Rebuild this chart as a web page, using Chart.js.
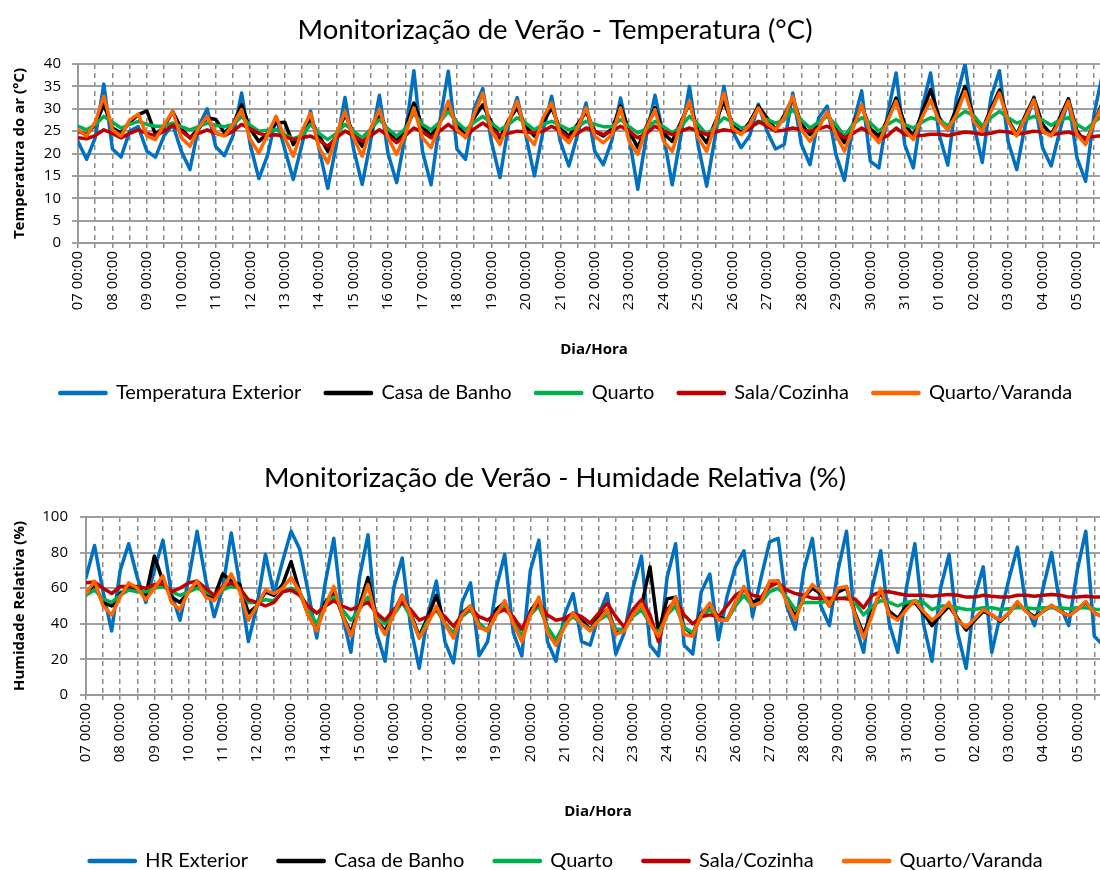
<!DOCTYPE html>
<html>
<head>
<meta charset="utf-8">
<script src="https://cdn.jsdelivr.net/npm/chart.js@4.4.1/dist/chart.umd.min.js"></script>
<style>
html, body { margin: 0; padding: 0; background: #ffffff; overflow: hidden; width: 1100px; height: 870px; }
#temperature_chart { position: absolute; left: 0; top: 0; }
#humidity_chart { position: absolute; left: 0; top: 400px; }
</style>
</head>
<body>
<canvas id="temperature_chart" width="1110" height="430"></canvas>
<canvas id="humidity_chart" width="1110" height="500"></canvas>
<script>
// one label per day, one value every 6 hours (00h, 06h, 12h, 18h)
var dayLabels = ['07','08','09','10','11','12','13','14','15','16','17','18','19','20','21',
    '22','23','24','25','26','27','28','29','30','31','01','02','03','04','05'];
var hourStep = 6;

var tempExterior = [
    22.7,18.7,23.5,35.5, 21,19.2,25,26, 20.5,19.2,24,26.5, 20.5,16.4,26,30, 21.5,19.5,24,33.5,
    22,14.4,19.5,28, 21,14.2,22,29.5, 21,12.2,22,32.5, 21,13.1,23,33, 20,13.5,24,38.5,
    20.5,13,27,38.4, 21,18.7,30,34.5, 22.7,14.6,26.5,32.5, 24,15,25,32.8, 22.7,17.2,24.2,31.3,
    20.5,17.5,23,32.4, 23.5,12,24,33, 23.9,13,24,35, 22,12.7,24,35, 25,21.3,24,31,
    25,21,22,33.5, 22,17.5,28,30.6, 19.8,14,26.5,34, 18.3,16.8,28.7,38, 22,16.8,30,38,
    24.2,17.4,32.4,40, 26.5,18,32.4,38.5, 22.7,16.4,26.5,32.6, 21.3,17.2,25,32.2, 19,13.8,29,38
];
var tempBanho = [
    25,24.2,26.5,30.9, 25.7,24.6,27,28.7, 29.5,24.2,26,29.4, 25.5,23.5,25.5,28, 27.6,24.6,26.5,30.9,
    25.5,22.7,24.5,26.8, 27,22,24.5,27.6, 24,20.5,24,28.7, 24.5,21.6,25,28.7, 25,22.7,25.5,31.3,
    26,23.9,27,30.6, 26.5,23.9,28,30.9, 27,23.5,27.5,30.2, 26,23.9,27,30.2, 25.5,23.9,26.5,29.4,
    25,23.9,25.5,30.6, 25,21.3,26,30.2, 24.5,22.7,27,31.3, 25,22.4,27,31.7, 26.5,24.6,27,30.6,
    28,25.3,28.5,32.4, 26.5,24.2,26.5,29, 25.5,22.4,26.5,30.6, 25.5,23.9,27.5,32.4, 26.5,23.9,29,34.3,
    28,25.3,30,35, 28,25.3,30,34.2, 27.5,24.2,28.5,32.4, 26.5,24.2,28,32.2, 25,22.4,27,31.5
];
var tempQuarto = [
    26.1,25.3,26.5,28.3, 27,25.7,26.5,27.2, 26.5,26.1,26.1,26.8, 26,25.3,26,26.8, 26.3,26,26.5,28.3,
    26.3,25,25.2,25.3, 24.3,23.3,24,26.5, 24.5,23.1,24.5,26.5, 25,23.5,25.5,27.6, 25.5,23.9,25.5,29,
    26.5,25.3,27,29.4, 27,25.3,27,28.3, 26.8,25.3,26.5,28, 26.8,25.3,26.5,27.2, 26.3,25.3,26,27.2,
    26.5,26,26,27.6, 26,24.6,25.5,27.2, 26,24.6,26,28.3, 26.5,24.2,26,28, 27,25.7,26,26.8,
    27.6,26.8,27.5,29.8, 27.5,25.7,27,28.3, 26.5,23.9,26.5,28, 26.8,25,26.5,27.6, 26.5,25.7,27,28,
    27.5,26.2,28,29.4, 28.5,26.2,28,29.4, 28,26.8,27.5,28.3, 27.5,26.3,27.5,28, 26.5,25.3,27,28.5
];
var tempSala = [
    23.5,23.3,24,25.3, 24.5,23.5,24.5,25.3, 24.5,24,25,26.3, 25,23.5,24.5,25.3, 24.5,24,25,26.5,
    25.5,24.5,24,24.2, 23.8,23.1,23.5,23.9, 23,21.6,23.5,25, 24,22.7,24,25.3, 24,22.4,24,25.7,
    24.8,23.5,25,26.5, 25,23.9,25.5,26.8, 25.5,24,24.5,25, 24.8,24.6,25,26.1, 25,23.5,24.5,25.7,
    25,24.2,25,26.1, 25,23.5,24.5,26.1, 25,24.2,25,25.7, 25,24.2,24.8,25.3, 25,24.6,25.5,27.2,
    26.1,25,25.2,25.7, 25.3,25,25.5,26.1, 25,23.5,24.5,25.7, 24.5,23.1,24,25.7, 24.2,24,24,24.3,
    24.3,24,24.4,24.8, 24.6,24.3,24.5,25, 24.8,24.3,24.6,25, 24.8,24.2,24.5,24.8, 24.2,23.5,23.8,24
];
var tempVaranda = [
    25.3,23.9,27,32.8, 25.3,23.9,27.5,28.8, 23.9,23.1,26.5,29.4, 23.5,21.6,25.7,28.3, 24.6,23.9,26.5,29.8,
    23.1,20.1,24.2,28.3, 23.5,19.4,25,29, 21.3,17.9,24.2,29.4, 23.5,19.4,25.7,29.8, 23.5,19.8,24.2,30.2,
    23.5,21.3,26.5,31.7, 25.3,23.5,28.7,33.5, 25,22,27.2,31.7, 24.2,22,28,31.3, 24.2,22.4,25.7,30.2,
    23.9,22.4,24.2,30.2, 22.7,19.8,25.7,29.8, 22.7,20.5,26.5,31.7, 23.5,20.5,26.5,33.5, 25.7,24.2,26.5,30.2,
    26.8,25.3,28,32.8, 25.3,22.7,25.7,29.4, 24.2,20.5,25.7,30.9, 24.6,22.4,27.2,31.7, 25.3,23.1,28,32,
    27.2,25.3,28.7,33.9, 27.2,25,29.4,33.5, 27.2,23.9,28,32, 25,23.9,27.2,31.7, 24.2,22,27,31
];

var humExterior = [
    66,84,58,36, 70,85,66,52, 70,87,57,42, 65,92,65,44, 60,91,62,30,
    50,79,57,75, 92,82,58,32, 63,88,45,24, 66,90,35,19, 60,77,38,15,
    45,64,30,18, 52,63,22,30, 60,79,35,22, 70,87,30,19, 45,57,30,28,
    45,57,23,35, 60,78,28,22, 66,85,28,23, 58,68,31,55, 72,81,44,66,
    86,88,50,37, 70,88,50,39, 70,92,40,24, 60,81,40,24, 60,85,40,19,
    60,79,35,15, 55,72,24,45, 65,83,50,39, 60,80,50,39, 70,92,33,28
];
var humBanho = [
    57,62,52,50, 57,60,60,56, 78,64,55,52, 58,62,56,55, 68,64,62,46,
    50,58,56,62, 75,58,45,38, 52,58,45,35, 50,66,42,36, 46,56,46,33,
    44,56,40,34, 46,50,40,36, 48,52,42,32, 47,54,37,30, 40,46,42,37,
    44,48,36,37, 46,50,72,35, 54,55,38,34, 46,50,44,42, 52,60,52,54,
    63,64,53,44, 55,60,57,50, 58,60,46,34, 47,58,47,43, 50,52,46,39,
    45,50,43,36.5, 42,47,45,41.5, 46,52,47,44, 47,50,47,44.5, 48,52,46,44
];
var humQuarto = [
    56,59,54,52, 56,59,58,58, 60,61,58,56, 58,60,58,56, 59,61,60,52,
    52,53.5,53,58, 60,58,48,40, 50,55,48,42, 48,55,45,40, 45,52,44,32,
    42,48,40,35, 44,48,40,36, 45,50,42,33, 45,50,38,31, 40,44,40,37,
    42,45,37,37, 44,48,40,35, 45,50,38,35, 44,48,43,42, 50,56,50,52,
    58,60,55,48, 52,52,52,53, 54,55,52,45, 50,53,52,50, 52,53,52,48,
    50,50,49,48, 48,49,49,48, 48.5,49,49,48.5, 49,49,49,48.5, 49,49,48,48
];
var humSala = [
    63,63.5,60,57, 61,61,61,60, 62,62.5,58,60, 63,64,60,56, 61,63,60,53.5,
    52,50,52,58, 59,56,50,46, 50,53,50,48, 50,52,46,42, 48,52,48,42,
    44,48,44,38.5, 45,49,44,42, 46,48,44,37, 46,51.6,45,42, 43,46,44,40.4,
    46,51.6,44,38, 48,53.5,45,30, 48,53,45,40, 44,45,44,50, 56,59,56,55,
    61,63,59,57, 56,54.4,54.4,54.4, 54.4,54,54,49, 56,58,58,57, 56,56,56,55.5,
    56,56.5,56,55, 55,56,55.5,55, 55,56,56,55.5, 56,56.5,56,55, 55,55.5,55,55
];
var humVaranda = [
    57,64,50,45, 55,63,60,53.5, 60,67,52,48, 58,64,55,53, 60,68,58,42,
    50,59,57,60, 66,58,45,36, 50,61,45,33, 48,62,42,34, 45,56,45,32,
    40,50,40,32, 45,50,38,36, 45,53,40,30, 45,55,35,28, 38,46,40,36,
    42,48,34,36, 45,51,40,33, 45,55,34,33, 45,51.6,42,42, 52,61,50,52,
    64,64,52,42, 55,62,58,50, 60,61,45,32, 45,60,45,42, 48,53,47,42,
    46,52,42,38, 43,48,45,42, 46,52.5,47,43, 47,50.6,47,44.5, 48,52.5,46,44
];

Chart.defaults.font.family = "'Open Sans', 'DejaVu Sans', sans-serif";
Chart.defaults.color = '#000000';

// the legend sits a little right of the canvas centre in the original
var legendShift = {
    id: 'legendShift',
    afterLayout: function(chart) {
        chart.legend.left += 11;
        chart.legend.right += 11;
    }
};

function toPoints(values) {
    return values.map(function(v, i) {
        return {x: i * hourStep, y: v};
    });
}

function makeDataset(label, values, color, order) {
    return {
        label: label,
        data: toPoints(values),
        borderColor: color,
        backgroundColor: color,
        borderWidth: 3.5,
        borderJoinStyle: 'round',
        borderCapStyle: 'round',
        pointRadius: 0,
        tension: 0,
        order: order // orange on top, blue at the bottom
    };
}

function makeOptions(c) {
    return {
        responsive: false,
        animation: false,
        layout: {padding: {left: 0, right: 0, top: 0, bottom: c.padBottom}},
        plugins: {
            title: {
                display: true,
                text: c.title,
                color: '#000000',
                font: {family: 'Lato', size: 27.5, weight: 'normal'},
                padding: {top: c.titleTop, bottom: c.titleBottom}
            },
            legend: {
                position: 'bottom',
                labels: {
                    boxWidth: 46,
                    boxHeight: 1,
                    padding: c.legendPad,
                    color: '#000000',
                    font: {family: 'Lato', size: 20},
                    sort: function(a, b) { return a.datasetIndex - b.datasetIndex; }
                }
            },
            tooltip: {enabled: false}
        },
        scales: {
            x: {
                type: 'linear',
                min: 0,
                max: 719,
                afterFit: function(scale) {
                    scale.height = c.xHeight;
                    scale.paddingLeft = 0;
                    scale.paddingRight = 0;
                },
                grid: {color: '#8c8c8c', lineWidth: 1.5, tickLength: 5},
                border: {display: true, color: '#999999', width: 2, dash: [5, 4]},
                ticks: {
                    stepSize: 12,
                    autoSkip: false,
                    includeBounds: false,
                    minRotation: 90,
                    maxRotation: 90,
                    padding: 3,
                    font: {size: 15},
                    callback: function(value) {
                        var day = dayLabels[value / 24];
                        if (value % 24 !== 0 || day === undefined) return '';
                        return day + ' 00:00';
                    }
                },
                title: {
                    display: true,
                    text: 'Dia/Hora',
                    font: {size: 15, weight: 'bold'},
                    padding: {top: 0, bottom: c.xTitleBottom}
                }
            },
            y: {
                min: 0,
                max: c.yMax,
                afterFit: function(scale) { scale.width = c.yWidth; },
                grid: {color: '#a0a0a0', lineWidth: 2, tickLength: 6},
                border: {display: true, color: '#999999', width: 2},
                ticks: {stepSize: c.yStep, padding: c.yTickPad, font: {size: 15}},
                title: {
                    display: true,
                    text: c.yTitle,
                    font: {size: 15, weight: 'bold'},
                    padding: {top: 11, bottom: 0}
                }
            }
        }
    };
}

var chart_temp = new Chart(document.getElementById('temperature_chart'), {
    type: 'line',
    data: {
        datasets: [
            makeDataset('Temperatura Exterior', tempExterior, '#0070C0', 5),
            makeDataset('Casa de Banho', tempBanho, '#000000', 4),
            makeDataset('Quarto', tempQuarto, '#00B050', 3),
            makeDataset('Sala/Cozinha', tempSala, '#C00000', 2),
            makeDataset('Quarto/Varanda', tempVaranda, '#FF6600', 1)
        ]
    },
    plugins: [legendShift],
    options: makeOptions({
        title: 'Monitorização de Verão - Temperatura (°C)',
        titleTop: 13.5, titleBottom: 17.5,
        yTitle: 'Temperatura do ar (°C)', yMax: 40, yStep: 5, yWidth: 78, yTickPad: 11,
        xHeight: 116, xTitleBottom: 0, padBottom: 17, legendPad: 24
    })
});

var chart_hum = new Chart(document.getElementById('humidity_chart'), {
    type: 'line',
    data: {
        datasets: [
            makeDataset('HR Exterior', humExterior, '#0070C0', 5),
            makeDataset('Casa de Banho', humBanho, '#000000', 4),
            makeDataset('Quarto', humQuarto, '#00B050', 3),
            makeDataset('Sala/Cozinha', humSala, '#C00000', 2),
            makeDataset('Quarto/Varanda', humVaranda, '#FF6600', 1)
        ]
    },
    plugins: [legendShift],
    options: makeOptions({
        title: 'Monitorização de Verão - Humidade Relativa (%)',
        titleTop: 61.5, titleBottom: 22.5,
        yTitle: 'Humidade Relativa (%)', yMax: 100, yStep: 20, yWidth: 86, yTickPad: 12,
        xHeight: 126, xTitleBottom: 0, padBottom: 19, legendPad: 30
    })
});
</script>
</body>
</html>
